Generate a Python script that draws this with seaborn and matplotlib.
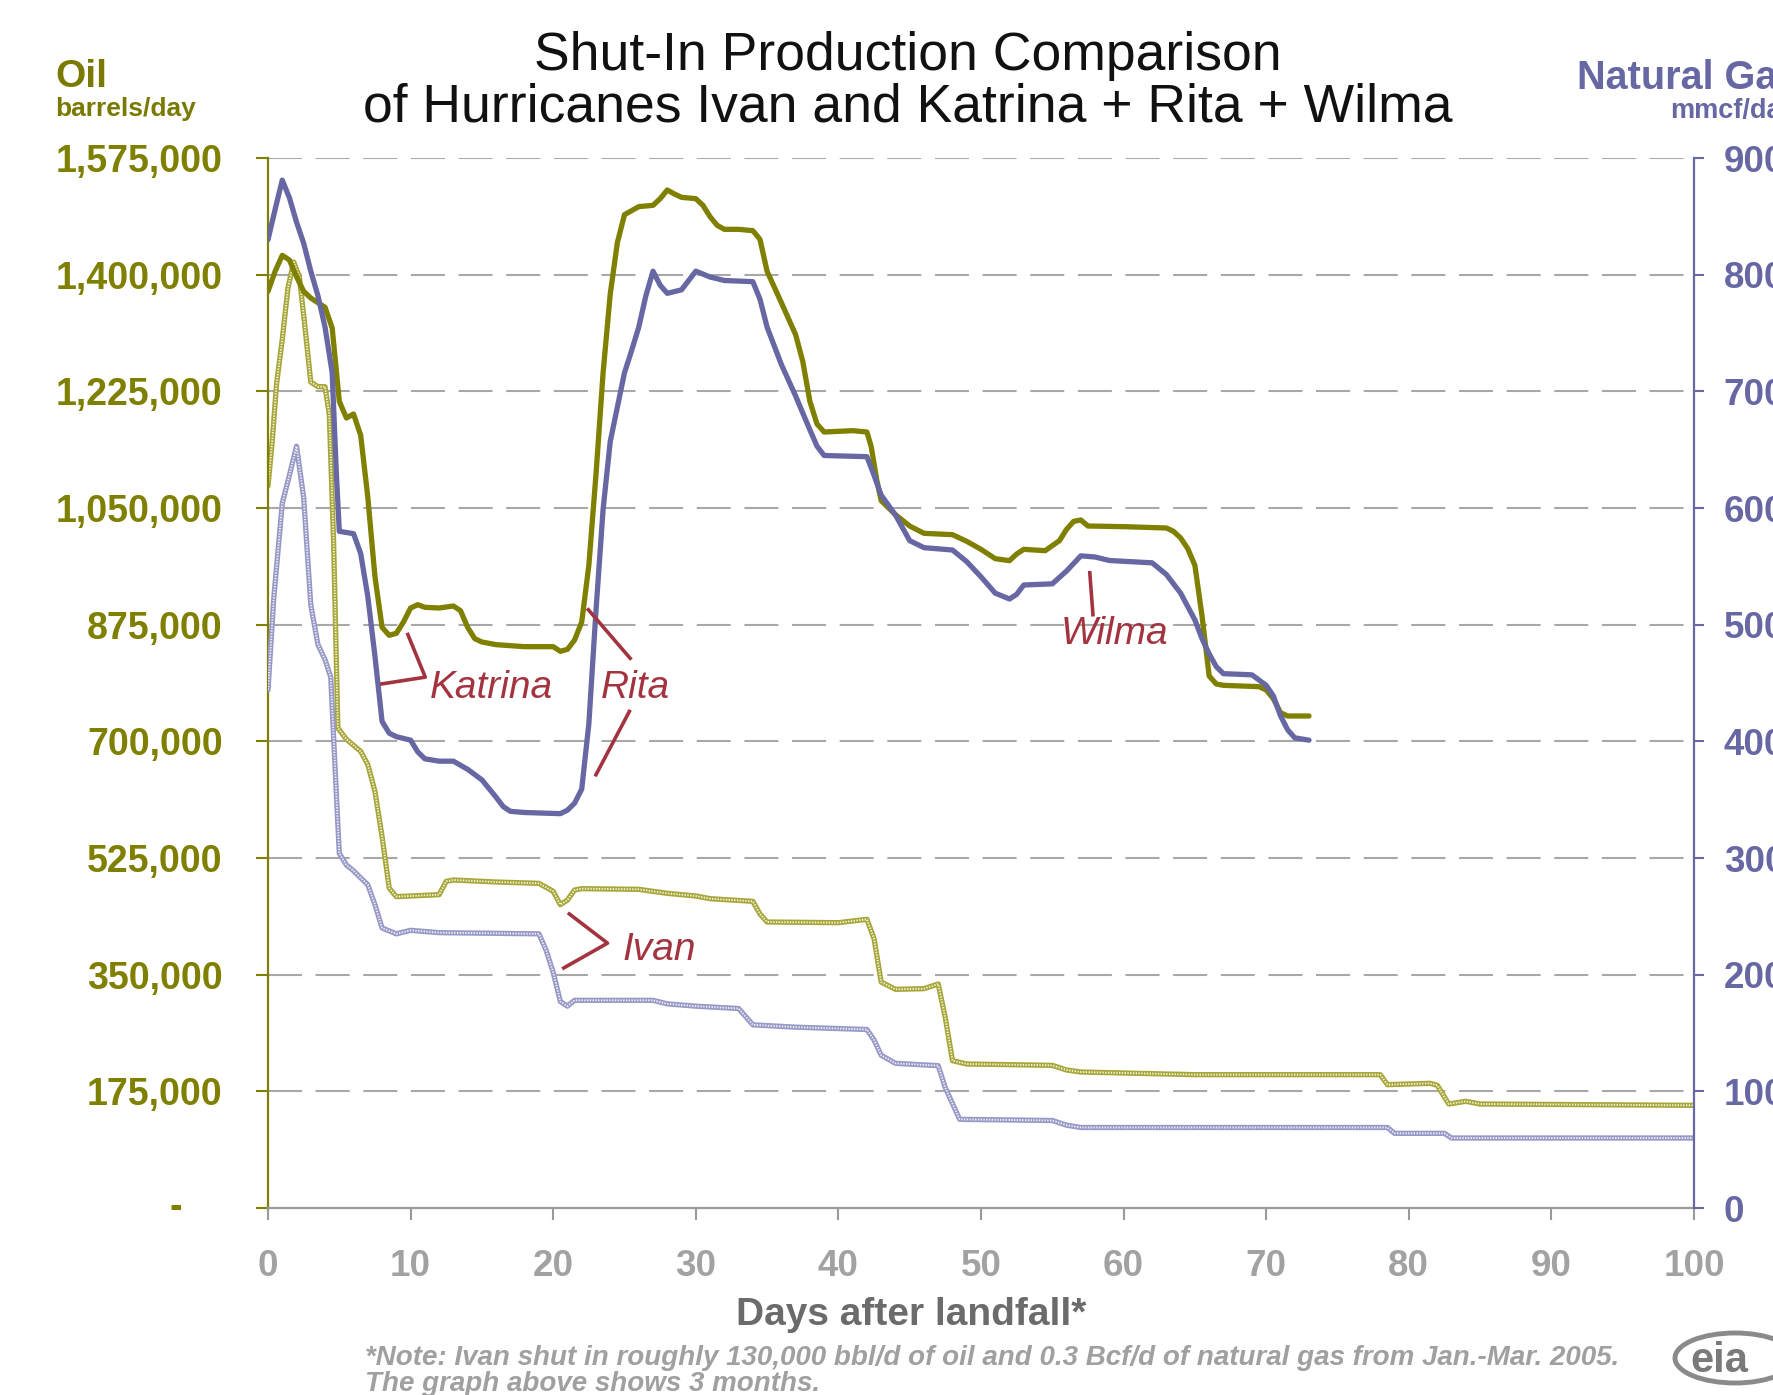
import matplotlib
matplotlib.use("Agg")
import matplotlib.pyplot as plt
from matplotlib.patches import Ellipse
from matplotlib.ticker import FuncFormatter
import pandas as pd
import seaborn as sns

# ---- Katrina + Rita + Wilma (combined shut-in) ----
krw_oil_days = [0, 0.5, 1, 1.5, 2, 2.5, 3, 4, 4.5, 5,
                5.5, 6, 6.5, 7, 7.5, 8, 8.5, 9, 9.5, 10,
                10.5, 11, 12, 13, 13.5, 14, 14.5, 15, 16, 18,
                20, 20.5, 21, 21.5, 22, 22.5, 23, 23.5, 24, 24.5,
                25, 26, 27, 27.5, 28, 28.5, 29, 30, 30.5, 31,
                31.5, 32, 33, 34, 34.5, 35, 36, 37, 37.5, 38,
                38.5, 39, 41, 42, 42.3, 42.7, 43, 44, 45, 46,
                48, 49, 50, 51, 52, 52.5, 53, 54.5, 55.5, 56,
                56.5, 57, 57.5, 60, 63, 63.5, 64, 64.5, 65, 65.5,
                66, 66.5, 67, 69.5, 70, 70.5, 71, 71.5, 73]
krw_oil = [1375000, 1405000, 1429000, 1422000, 1397000, 1375000, 1365000, 1351000, 1320000, 1210000,
           1185000, 1191000, 1159000, 1066000, 947000, 871000, 859000, 862000, 879000, 900000,
           905000, 901000, 900000, 903000, 896000, 871000, 854000, 849000, 845000, 842000,
           842000, 835000, 838000, 852000, 879000, 964000, 1100000, 1253000, 1371000, 1448000,
           1490000, 1502000, 1504000, 1514000, 1527000, 1521000, 1516000, 1514000, 1504000, 1487000,
           1474000, 1468000, 1468000, 1466000, 1453000, 1405000, 1358000, 1310000, 1270000, 1210000,
           1176000, 1164000, 1166000, 1164000, 1142000, 1091000, 1061000, 1040000, 1023000, 1012000,
           1010000, 1000000, 988000, 974000, 971000, 981000, 988000, 986000, 1001000, 1018000,
           1030000, 1032000, 1023000, 1022000, 1020000, 1015000, 1005000, 989000, 964000, 888000,
           798000, 786000, 784000, 782000, 777000, 764000, 743000, 738000, 738000]

krw_gas_days = [0, 0.5, 1, 1.5, 2, 2.5, 3, 3.5, 4, 4.5,
                4.8, 5, 6, 6.5, 7, 7.5, 8, 8.5, 9, 10,
                10.5, 11, 12, 13, 14, 15, 16, 16.5, 17, 18,
                20.5, 21, 21.5, 22, 22.5, 23, 23.5, 24, 25, 25.5,
                26, 26.5, 27, 27.5, 28, 29, 30, 31, 32, 34,
                34.5, 35, 36, 37, 38, 38.5, 39, 42, 42.5, 43,
                44, 45, 46, 48, 49, 50, 51, 52, 52.5, 53,
                55, 56, 57, 58, 59, 62, 63, 64, 65, 65.5,
                66, 66.5, 67, 69, 70, 70.5, 71, 71.5, 72, 73]
krw_gas = [830, 856, 881, 866, 845, 827, 803, 782, 755, 716,
           628, 580, 578, 561, 524, 473, 417, 407, 404, 401,
           391, 385, 383, 383, 376, 367, 352, 344, 340, 339,
           338, 341, 347, 359, 415, 512, 599, 657, 716, 735,
           755, 782, 803, 791, 784, 787, 803, 798, 795, 794,
           779, 755, 723, 696, 667, 653, 645, 644, 628, 611,
           594, 572, 566, 564, 554, 541, 527, 522, 526, 534,
           535, 546, 559, 558, 555, 553, 543, 527, 504, 488,
           475, 464, 458, 457, 448, 439, 422, 410, 403, 401]

# ---- Ivan ----
ivan_oil_days = [0, 0.3, 0.6, 1, 1.4, 1.8, 2.2, 2.6, 3, 3.5,
                 4, 4.3, 4.6, 4.9, 5.5, 6.5, 7, 7.5, 8, 8.5,
                 9, 10, 12, 12.5, 13, 16, 19, 20, 20.5, 21,
                 21.5, 22, 26, 28, 30, 31, 34, 34.5, 35, 40,
                 42, 42.5, 43, 44, 46, 47, 47.5, 48, 49, 55,
                 56, 57, 65, 78, 78.5, 81.5, 82, 82.8, 84, 85,
                 100]
ivan_oil = [1083000, 1151000, 1236000, 1303000, 1380000, 1419000, 1397000, 1320000, 1239000, 1232000,
            1232000, 1190000, 1000000, 720000, 703000, 685000, 665000, 625000, 557000, 480000,
            467000, 468000, 470000, 490000, 492000, 489000, 487000, 475000, 455000, 462000,
            477000, 479000, 478000, 472000, 468000, 464000, 460000, 441000, 429000, 428000,
            433000, 404000, 339000, 328000, 329000, 336000, 285000, 221000, 216000, 214000,
            207000, 204000, 200000, 200000, 185000, 187000, 184000, 156000, 160000, 156000,
            154000]

ivan_gas_days = [0, 0.4, 1, 1.5, 2, 2.5, 3, 3.5, 4, 4.4,
                 4.8, 5, 5.5, 6, 7, 7.5, 8, 9, 10, 12,
                 19, 19.5, 20, 20.5, 21, 21.5, 27, 28, 30, 33,
                 34, 37, 42, 42.5, 43, 44, 47, 47.5, 48.5, 55,
                 56, 57, 78.5, 79, 82.5, 83, 100]
ivan_gas = [444, 522, 604, 628, 653, 609, 517, 483, 470, 455,
            353, 304, 294, 289, 277, 260, 240, 235, 238, 236,
            235, 221, 202, 177, 173, 178, 178, 175, 173, 171,
            157, 155, 153, 144, 131, 124, 122, 103, 76, 75,
            71, 69, 69, 64, 64, 60, 60]

oil_ticks = list(range(0, 1575001, 175000))
gas_ticks = list(range(0, 901, 100))
day_ticks = list(range(0, 101, 10))

OLIVE = "#7f7f00"
OLIVE_TXT = "#7a7a00"
BLUE = "#6767a4"
IVAN_OIL = "#a6a63a"
IVAN_GAS = "#9898c6"
RED = "#a3343f"
GRAY = "#9a9a9a"

sns.set_style("white")
plt.rcParams["font.family"] = ["Liberation Sans", "DejaVu Sans"]
plt.rcParams["lines.scale_dashes"] = False

W, H = 1774, 1395
fig = plt.figure(figsize=(W / 100, H / 100), dpi=100)


def fx(px):
    return px / W


def fy(py):
    return 1 - py / H


ax = fig.add_axes([fx(268), fy(1208), (1694 - 268) / W, (1208 - 158) / H])
ax2 = ax.twinx()


def frame(days, vals, name):
    return pd.DataFrame({"day": days, name: vals})


def textured(axis, df, col, base, light):
    sns.lineplot(data=df, x="day", y=col, ax=axis, color=base, linewidth=3.8,
                 estimator=None, sort=False, solid_joinstyle="round")
    sns.lineplot(data=df, x="day", y=col, ax=axis, color=light, linewidth=1.4,
                 estimator=None, sort=False, linestyle=(0, (1.0, 1.0)))


# oil on the left axis
textured(ax, frame(ivan_oil_days, ivan_oil, "oil"), "oil", IVAN_OIL, "#f4f4dc")
sns.lineplot(data=frame(krw_oil_days, krw_oil, "oil"), x="day", y="oil", ax=ax,
             color=OLIVE, linewidth=3.8, estimator=None, sort=False)

# gas on the right axis
textured(ax2, frame(ivan_gas_days, ivan_gas, "gas"), "gas", IVAN_GAS, "#f0f0fa")
sns.lineplot(data=frame(krw_gas_days, krw_gas, "gas"), x="day", y="gas", ax=ax2,
             color=BLUE, linewidth=3.8, estimator=None, sort=False)

ax.set_xlim(0, 100)
ax.set_ylim(0, 1575000)
ax2.set_ylim(0, 900)
ax.set_xticks(day_ticks)
ax.set_yticks(oil_ticks)
ax2.set_yticks(gas_ticks)
ax.set_xlabel("")
ax.set_ylabel("")
ax2.set_ylabel("")

ax.yaxis.set_major_formatter(FuncFormatter(lambda v, p: "" if v == 0 else f"{v:,.0f}"))
ax2.yaxis.set_major_formatter(FuncFormatter(lambda v, p: f"{v:,.0f}"))

# dashed horizontal guides
for t in oil_ticks[1:]:
    ax.axhline(t, color="#a8a8a8", linewidth=1.5, linestyle=(0, (24.5, 9.8)), zorder=0.5)

for s in ("top", "right"):
    ax.spines[s].set_visible(False)
for s in ("top", "left", "bottom"):
    ax2.spines[s].set_visible(False)
ax.spines["left"].set_color(OLIVE)
ax.spines["left"].set_linewidth(1.6)
ax.spines["bottom"].set_color(GRAY)
ax.spines["bottom"].set_linewidth(1.6)
ax2.spines["right"].set_color(BLUE)
ax2.spines["right"].set_linewidth(1.6)

ax.tick_params(axis="y", which="major", left=True, direction="out", length=8.6, width=1.5,
               color=OLIVE, pad=24, labelsize=27, labelcolor=OLIVE)
ax.tick_params(axis="x", which="major", bottom=True, direction="out", length=8.6, width=1.5,
               color=GRAY, pad=21, labelsize=26.5, labelcolor="#a2a2a2")
ax2.tick_params(axis="y", which="major", right=True, direction="out", length=7.5, width=1.5,
                color=BLUE, pad=14, labelsize=26.5, labelcolor=BLUE)
for lab in ax.get_yticklabels() + ax.get_xticklabels() + ax2.get_yticklabels():
    lab.set_fontweight("bold")

# zero on the oil axis shown as a dash
ax.text(-0.0645, 0, "-", transform=ax.get_yaxis_transform(), ha="center", va="center",
        fontsize=27, fontweight="bold", color=OLIVE)

# hurricane call-outs (positions in gas-axis units)
callout = dict(color=RED, linewidth=2.6, solid_capstyle="butt")
ax2.plot([7.86, 11.03, 9.76], [449, 455, 493], **callout)
ax2.plot([22.38, 25.48], [514, 470], **callout)
ax2.plot([25.40, 22.94], [427, 370], **callout)
ax2.plot([57.62, 57.86], [546, 507], **callout)
ax2.plot([21.03, 23.81, 20.63], [253, 227, 205], **callout)
lab_kw = dict(color=RED, fontsize=28, style="italic", ha="left", va="baseline")
ax2.text(11.35, 437, "Katrina", **lab_kw)
ax2.text(23.33, 437, "Rita", **lab_kw)
ax2.text(55.56, 483, "Wilma", **lab_kw)
ax2.text(24.84, 213, "Ivan", **lab_kw)

# titles and axis captions
fig.text(fx(908), fy(70), "Shut-In Production Comparison", ha="center", va="baseline",
         fontsize=38.5, color="#111111")
fig.text(fx(908), fy(122), "of Hurricanes Ivan and Katrina + Rita + Wilma", ha="center",
         va="baseline", fontsize=38.5, color="#111111")
fig.text(fx(55), fy(87), "Oil", ha="left", va="baseline", fontsize=28, fontweight="bold",
         color=OLIVE_TXT)
fig.text(fx(55), fy(116), "barrels/day", ha="left", va="baseline", fontsize=19,
         fontweight="bold", color=OLIVE_TXT)
fig.text(fx(1577), fy(89), "Natural Gas", ha="left", va="baseline", fontsize=28.5,
         fontweight="bold", color=BLUE)
fig.text(fx(1670), fy(118), "mmcf/day", ha="left", va="baseline", fontsize=19.5,
         fontweight="bold", color=BLUE)
fig.text(fx(911), fy(1325), "Days after landfall*", ha="center", va="baseline", fontsize=28,
         fontweight="bold", color="#6b6b6b")
fig.text(fx(365), fy(1365),
         "*Note: Ivan shut in roughly 130,000 bbl/d of oil and 0.3 Bcf/d of natural gas from Jan.-Mar. 2005.",
         ha="left", va="baseline", fontsize=20, fontweight="bold", style="italic", color="#a0a0a0")
fig.text(fx(365), fy(1391), "The graph above shows 3 months.", ha="left", va="baseline",
         fontsize=20, fontweight="bold", style="italic", color="#a0a0a0")

# eia mark
fig.add_artist(Ellipse((fx(1735), fy(1358)), 120 / W, 50 / H, transform=fig.transFigure,
                       fill=False, edgecolor="#8a8a8a", linewidth=3.5))
fig.text(fx(1690), fy(1372), "eia", ha="left", va="baseline", fontsize=30, fontweight="bold",
         color="#7a7a7a")

fig.savefig("out.png", dpi=100)
